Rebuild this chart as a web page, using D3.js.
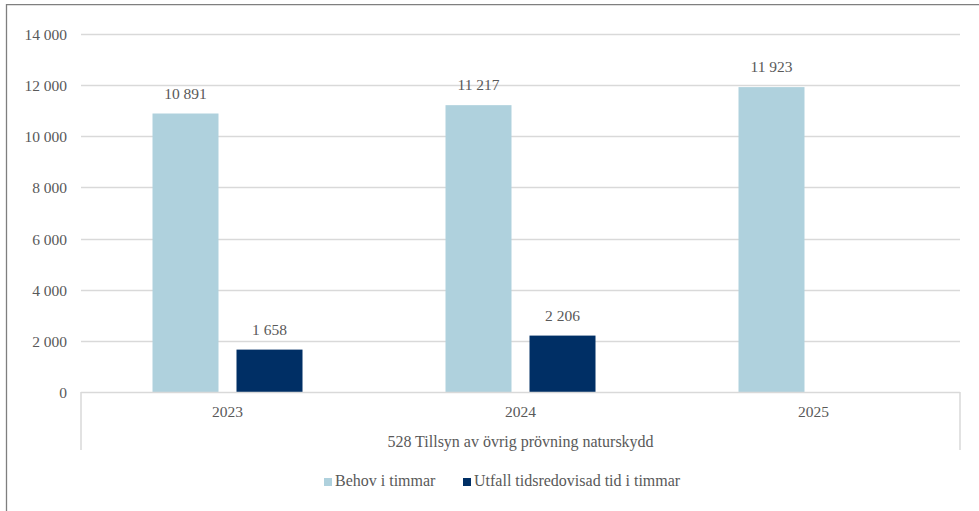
<!DOCTYPE html>
<html>
<head>
<meta charset="utf-8">
<script src="https://cdn.jsdelivr.net/npm/d3@7"></script>
<style>
  html, body { margin: 0; padding: 0; background: #fff; }
  svg { display: block; }
</style>
</head>
<body>
<svg id="chart" width="979" height="511"></svg>
<script>
const categories = ["2023", "2024", "2025"];
const seriesNames = ["Behov i timmar", "Utfall tidsredovisad tid i timmar"];
const behov = [10891, 11217, 11923];
const utfall = [1658, 2206, null];
const yTicks = [0, 2000, 4000, 6000, 8000, 10000, 12000, 14000];
const groupLabel = "528 Tillsyn av övrig prövning naturskydd";
const colors = ["#AFD1DD", "#002F65"];

const FONT = "'Liberation Serif', 'Times New Roman', Times, serif";
const TXT = "#595959";

const svg = d3.select("#chart");
const W = 979, H = 511;
const plot = { left: 81, right: 960, top: 34, bottom: 392 };

const fmt = v => d3.format(",")(v).replace(/,/g, " ");
const styleText = (sel, fs) => sel.style("font-family", FONT).style("font-size", fs).style("fill", TXT);

// outer border (left and top visible)
svg.append("line").attr("x1", 6.5).attr("x2", 6.5).attr("y1", 4).attr("y2", H)
  .attr("stroke", "#7f7f7f").attr("stroke-width", 1.3);
svg.append("line").attr("x1", 6).attr("x2", W).attr("y1", 4.7).attr("y2", 4.7)
  .attr("stroke", "#7f7f7f").attr("stroke-width", 1.3);

const x = d3.scaleBand().domain(categories).range([plot.left, plot.right]);
const y = d3.scaleLinear().domain([0, 14000]).range([plot.bottom, plot.top]);

// gridlines
svg.append("g").selectAll("line").data(yTicks.filter(t => t > 0)).join("line")
  .attr("x1", plot.left).attr("x2", plot.right)
  .attr("y1", d => Math.round(y(d)) + 0.5).attr("y2", d => Math.round(y(d)) + 0.5)
  .attr("stroke", "#d9d9d9").attr("stroke-width", 1.5);

// y axis labels
const yAxis = d3.axisLeft(y).tickValues(yTicks).tickFormat(fmt).tickSize(0).tickPadding(14);
const gy = svg.append("g").attr("transform", `translate(${plot.left},0)`).call(yAxis)
  .attr("font-family", null).attr("font-size", null);
gy.select(".domain").remove();
gy.selectAll("text").call(styleText, "15.5px").attr("dy", "0.35em");

// bars
const barW = 66, gap = 18;
const sub = d3.scaleOrdinal().domain([0, 1]).range([-(gap / 2 + barW), gap / 2]);
const data = [];
categories.forEach((c, i) => {
  [behov[i], utfall[i]].forEach((v, s) => {
    if (v != null) data.push({ c, s, v });
  });
});
svg.append("g").selectAll("rect").data(data).join("rect")
  .attr("x", d => x(d.c) + x.bandwidth() / 2 + sub(d.s))
  .attr("width", barW)
  .attr("y", d => y(d.v))
  .attr("height", d => y(0) - y(d.v))
  .attr("fill", d => colors[d.s]);

// value labels
svg.append("g").selectAll("text").data(data).join("text")
  .attr("x", d => x(d.c) + x.bandwidth() / 2 + sub(d.s) + barW / 2)
  .attr("y", d => y(d.v) - 15)
  .attr("text-anchor", "middle")
  .call(styleText, "15.5px")
  .text(d => fmt(d.v));

// category axis box
const boxBottom = 450;
const axisColor = "#d9d9d9";
svg.append("line").attr("x1", plot.left).attr("x2", plot.right)
  .attr("y1", plot.bottom + 0.5).attr("y2", plot.bottom + 0.5)
  .attr("stroke", axisColor).attr("stroke-width", 1.5);
[plot.left, plot.right].forEach(xx => {
  svg.append("line").attr("x1", xx).attr("x2", xx)
    .attr("y1", plot.bottom).attr("y2", boxBottom)
    .attr("stroke", axisColor).attr("stroke-width", 1.5);
});
svg.append("g").selectAll("text").data(categories).join("text")
  .attr("x", d => x(d) + x.bandwidth() / 2)
  .attr("y", 417)
  .attr("text-anchor", "middle")
  .call(styleText, "15.5px")
  .text(d => d);
svg.append("text")
  .attr("x", (plot.left + plot.right) / 2)
  .attr("y", 447)
  .attr("text-anchor", "middle")
  .call(styleText, "16px")
  .text(groupLabel);

// legend
const legendItems = [{ name: seriesNames[0], x: 324 }, { name: seriesNames[1], x: 463 }];
const lg = svg.append("g").selectAll("g").data(legendItems).join("g")
  .attr("transform", d => `translate(${d.x},0)`);
lg.append("rect").attr("x", 0).attr("y", 478).attr("width", 8).attr("height", 8)
  .attr("fill", (d, i) => colors[i]);
lg.append("text").attr("x", 11).attr("y", 486)
  .call(styleText, "16px")
  .text(d => d.name);
</script>
</body>
</html>
